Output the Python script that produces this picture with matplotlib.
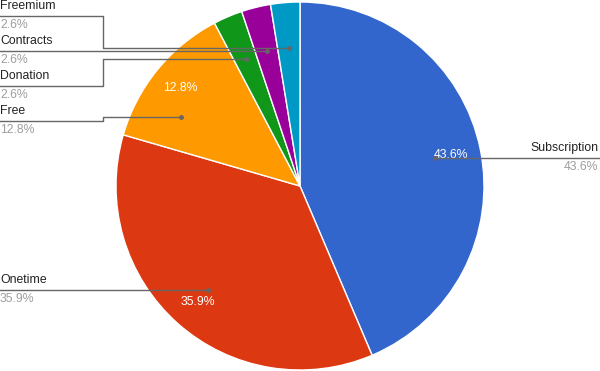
import numpy as np
import matplotlib
matplotlib.use('Agg')
import matplotlib.pyplot as plt

# data: counts read as percentages of 39
CATEGORIES = ['Subscription', 'Onetime', 'Free', 'Donation', 'Contracts', 'Freemium']
COUNTS     = [17, 14, 5, 1, 1, 1]
COLORS     = ['#3366cc', '#dc3912', '#ff9900', '#109618', '#990099', '#0099c6']

W, H   = 600, 371
CX, CY = 300, H - 186
RADIUS = 184

# leader layout (pixel y of the horizontal line at the label side, angle tweak)
LEADER_Y   = {'Subscription': 158, 'Onetime': 290, 'Free': 121,
              'Donation': 86, 'Contracts': 51, 'Freemium': 16}
ANGLE_TWK  = {'Free': -9}
ELBOW_X    = 103
INNER_SHOW = ['Subscription', 'Onetime', 'Free']
LINE_COL   = '#666666'

plt.rcParams['font.family'] = ['Liberation Sans', 'DejaVu Sans']
FS = 8.8

fig = plt.figure(figsize=(6, 3.71), dpi=100)
ax = fig.add_axes([0, 0, 1, 1])

total = sum(COUNTS)
pcts = [100 * c / total for c in COUNTS]

wedges, _ = ax.pie(
    COUNTS, colors=COLORS, startangle=90, counterclock=False,
    center=(CX, CY), radius=RADIUS,
    wedgeprops=dict(edgecolor='white', linewidth=1.0),
)
ax.set_xlim(0, W)
ax.set_ylim(0, H)
ax.set_aspect('equal')
ax.axis('off')

for w, name, p in zip(wedges, CATEGORIES, pcts):
    mid = np.radians((w.theta1 + w.theta2) / 2)
    if name in INNER_SHOW:
        ix = CX + 0.84 * RADIUS * np.cos(mid)
        iy = CY + 0.84 * RADIUS * np.sin(mid)
        ax.text(ix, iy, f'{p:.1f}%', color='white', fontsize=FS,
                ha='center', va='center')

    ang = mid - np.radians(ANGLE_TWK.get(name, 0))
    dx = CX + 0.75 * RADIUS * np.cos(ang)
    dy = CY + 0.75 * RADIUS * np.sin(ang)
    ly = H - LEADER_Y[name]

    if np.cos(mid) > 0:
        ax.plot([dx, W], [ly, ly], color=LINE_COL, lw=1.0, zorder=5)
        dy = ly
        tx, ha = W - 2, 'right'
    else:
        if abs(dy - ly) < 4:
            dy = ly
            ax.plot([0, dx], [ly, ly], color=LINE_COL, lw=1.0, zorder=5)
        else:
            ax.plot([0, ELBOW_X, ELBOW_X, dx], [ly, ly, dy, dy],
                    color=LINE_COL, lw=1.0, zorder=5)
        tx, ha = 0, 'left'
    ax.plot(dx, dy, 'o', color=LINE_COL, ms=2.5, zorder=6)
    ax.text(tx, ly + 10, name, color='#222222', fontsize=FS, ha=ha, va='center')
    ax.text(tx, ly - 9, f'{p:.1f}%', color='#9e9e9e', fontsize=FS, ha=ha, va='center')

fig.savefig('out.png', dpi=100, facecolor='white')
